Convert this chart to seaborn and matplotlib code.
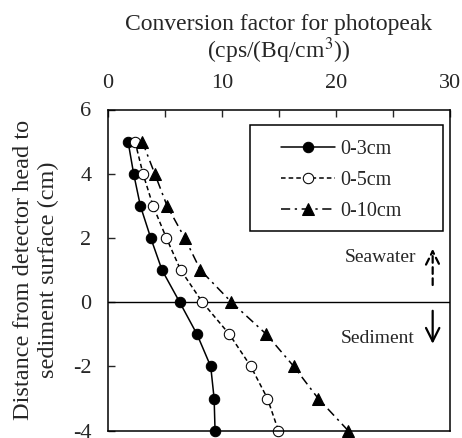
import numpy as np
import pandas as pd
import matplotlib
matplotlib.use("Agg")
import matplotlib.pyplot as plt
import seaborn as sns
from matplotlib.ticker import MultipleLocator
from matplotlib.patches import Rectangle

sns.set_style("ticks")
plt.rcParams['font.family'] = ['Liberation Serif', 'DejaVu Serif']
plt.rcParams['mathtext.fontset'] = 'stix'
plt.rcParams['axes.unicode_minus'] = False

depth = [5, 4, 3, 2, 1, 0, -1, -2, -3, -4]
cf_0_3 = [1.76, 2.25, 2.84, 3.75, 4.74, 6.29, 7.81, 9.01, 9.31, 9.39]
cf_0_5 = [2.37, 3.07, 3.95, 5.12, 6.38, 8.28, 10.65, 12.53, 13.99, 14.95]
cf_0_10 = [3.01, 4.10, 5.18, 6.73, 8.11, 10.83, 13.90, 16.30, 18.44, 21.07]
labels = ["0-3cm", "0-5cm", "0-10cm"]
x_ticks = [0, 10, 20, 30]
y_ticks = [-4, -2, 0, 2, 4, 6]

fig = plt.figure(figsize=(4.62, 4.38), dpi=100)
ax = fig.add_axes([108/462, 1-430.7/438, (450-108)/462, (430.7-109.5)/438])

common = dict(ax=ax, sort=False, estimator=None, color='black', linewidth=1.1,
              markeredgecolor='black', clip_on=False)
sns.lineplot(x=cf_0_3, y=depth, marker='o', markersize=7.5, markerfacecolor='black',
             linestyle='-', label=labels[0], **common)
sns.lineplot(x=cf_0_5, y=depth, marker='o', markersize=7.5, markerfacecolor='white',
             linestyle=(0, (3, 2)), label=labels[1], **common)
sns.lineplot(x=cf_0_10, y=depth, marker='^', markersize=8.5, markerfacecolor='black',
             linestyle=(0, (6, 3, 1.5, 3)), label=labels[2], **common)

ax.axhline(0, color='black', linewidth=1.0, zorder=1)

ax.set_xlim(0, 30)
ax.set_ylim(-4, 6)
ax.set_xticks(x_ticks)
ax.xaxis.set_minor_locator(MultipleLocator(5))
ax.set_yticks(y_ticks)
ax.xaxis.tick_top()
ax.xaxis.set_label_position('top')
ax.tick_params(axis='x', which='both', direction='in', length=5, width=1, labelsize=16, pad=12,
               top=True, bottom=False)
ax.tick_params(axis='y', direction='in', length=5, width=1, labelsize=16, pad=12, right=False)
for s in ax.spines.values():
    s.set_visible(True)
    s.set_linewidth(1.1)
    s.set_color('black')

ax.set_xlabel("Conversion factor for photopeak\n(cps/(Bq/cm$^3$))", fontsize=17, labelpad=11,
              linespacing=1.05)
ax.set_ylabel("Distance from detector head to\nsediment surface (cm)", fontsize=17.5, labelpad=10,
              linespacing=1.22)

# legend frame drawn as a box in axes coordinates
ax.add_patch(Rectangle((0.415, 0.622), 0.565, 0.330, transform=ax.transAxes,
                       fill=False, edgecolor='black', linewidth=1.1, zorder=5))
leg = ax.legend(loc='upper left', bbox_to_anchor=(0.505, 0.906), fontsize=14.5, frameon=False,
                handlelength=2.7, borderpad=0, borderaxespad=0,
                labelspacing=0.6, handletextpad=0.25)

ax.text(23.86, 1.38, "Seawater", fontsize=14, ha='center', va='center')
ax.text(23.7, -1.145, "Sediment", fontsize=14, ha='center', va='center')
ax.annotate("", xy=(28.48, 1.75), xytext=(28.48, 0.45),
            arrowprops=dict(arrowstyle='->', color='black', lw=1.6, linestyle=(0, (3, 2)),
                            mutation_scale=24))
ax.annotate("", xy=(28.48, -1.38), xytext=(28.48, -0.18),
            arrowprops=dict(arrowstyle='->', color='black', lw=1.6, mutation_scale=24))

fig.savefig("out.png", dpi=100)
